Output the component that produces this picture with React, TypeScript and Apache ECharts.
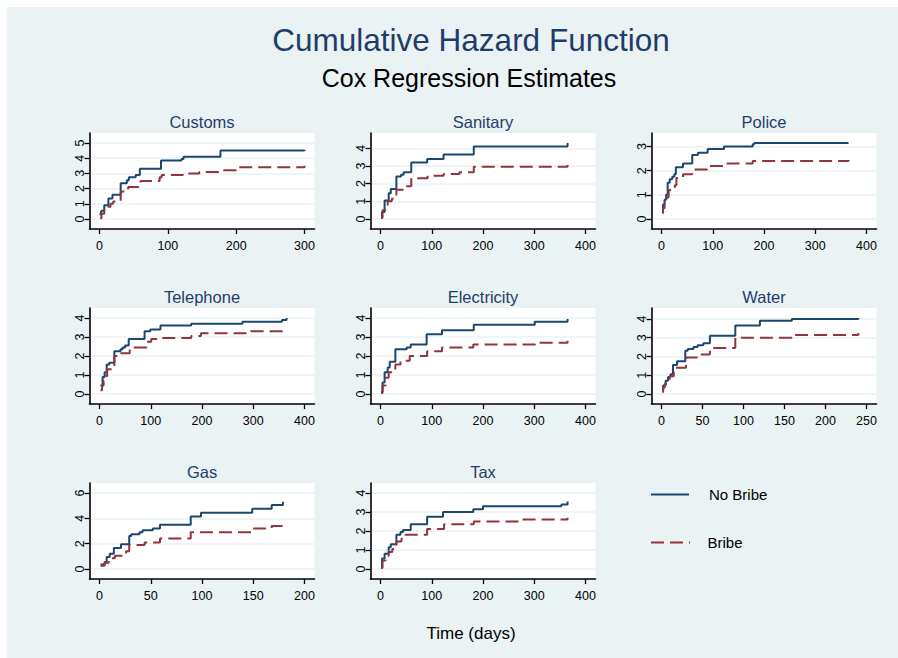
import React, { useEffect, useRef } from 'react';
import * as echarts from 'echarts';

// ---------------- data ----------------
const panelTitles = ['Customs', 'Sanitary', 'Police', 'Telephone', 'Electricity', 'Water', 'Gas', 'Tax'];
const seriesNames = ['No Bribe', 'Bribe'];

const customsNoBribeX = [1, 2, 3, 7, 13, 19, 31, 40, 43, 53, 59, 90, 120, 123, 177, 300];
const customsNoBribeY = [0.25, 0.4, 0.55, 0.9, 1.35, 1.6, 2.35, 2.55, 2.75, 2.9, 3.3, 3.85, 3.95, 4.1, 4.5, 4.55];
const customsBribeX = [1, 3, 7, 13, 16, 20, 31, 35, 42, 57, 60, 88, 91, 122, 146, 176, 200, 300];
const customsBribeY = [0.05, 0.35, 0.6, 0.8, 1.0, 1.15, 1.8, 1.95, 2.1, 2.35, 2.5, 2.75, 2.9, 3.0, 3.1, 3.2, 3.4, 3.5];

const sanitaryNoBribeX = [1, 3, 8, 16, 20, 31, 40, 45, 60, 91, 123, 182, 365];
const sanitaryNoBribeY = [0.1, 0.4, 1.05, 1.45, 1.7, 2.4, 2.5, 2.65, 3.2, 3.4, 3.65, 4.1, 4.3];
const sanitaryBribeX = [1, 4, 9, 14, 22, 31, 44, 60, 92, 123, 154, 182, 365];
const sanitaryBribeY = [0.05, 0.5, 0.8, 1.0, 1.15, 1.65, 1.85, 2.3, 2.45, 2.55, 2.65, 2.95, 3.05];

const policeNoBribeX = [1, 3, 6, 9, 12, 16, 21, 25, 28, 42, 60, 71, 90, 122, 178, 181, 365];
const policeNoBribeY = [0.4, 0.6, 0.8, 1.0, 1.5, 1.65, 1.75, 1.85, 2.15, 2.3, 2.65, 2.75, 2.9, 3.0, 3.1, 3.15, 3.15];
const policeBribeX = [1, 3, 6, 11, 14, 26, 29, 42, 60, 89, 121, 178, 365];
const policeBribeY = [0.25, 0.45, 0.65, 0.9, 1.2, 1.4, 1.7, 1.85, 2.05, 2.2, 2.3, 2.4, 2.45];

const telephoneNoBribeX = [2, 6, 10, 14, 19, 29, 41, 45, 50, 57, 88, 99, 119, 179, 279, 356, 365];
const telephoneNoBribeY = [0.45, 0.9, 1.15, 1.55, 1.65, 2.25, 2.35, 2.45, 2.55, 2.9, 3.3, 3.4, 3.6, 3.7, 3.8, 3.9, 4.0];
const telephoneBribeX = [2, 5, 8, 11, 15, 29, 41, 59, 92, 101, 121, 179, 198, 295, 365];
const telephoneBribeY = [0.2, 0.45, 0.7, 0.95, 1.3, 2.0, 2.15, 2.45, 2.75, 2.9, 2.95, 3.05, 3.2, 3.3, 3.3];

const electricityNoBribeX = [1, 4, 8, 14, 18, 29, 51, 59, 90, 120, 182, 301, 365];
const electricityNoBribeY = [0.1, 0.6, 1.15, 1.4, 1.7, 2.35, 2.45, 2.6, 3.15, 3.35, 3.65, 3.8, 3.95];
const electricityBribeX = [1, 4, 10, 16, 29, 39, 57, 91, 120, 181, 302, 365];
const electricityBribeY = [0.05, 0.45, 0.85, 1.15, 1.55, 1.75, 2.0, 2.25, 2.45, 2.6, 2.7, 2.8];

const waterNoBribeX = [1, 2, 5, 8, 11, 14, 19, 29, 32, 39, 44, 51, 59, 90, 120, 159, 240];
const waterNoBribeY = [0.2, 0.45, 0.7, 0.9, 1.05, 1.55, 1.75, 2.3, 2.4, 2.5, 2.6, 2.7, 3.1, 3.65, 3.9, 4.0, 4.05];
const waterBribeX = [1, 2, 4, 8, 10, 15, 30, 43, 59, 90, 159, 240];
const waterBribeY = [0.1, 0.35, 0.55, 0.8, 0.95, 1.4, 1.95, 2.1, 2.45, 3.0, 3.15, 3.25];

const gasNoBribeX = [1, 5, 7, 10, 14, 21, 29, 31, 39, 42, 52, 59, 89, 99, 149, 168, 179];
const gasNoBribeY = [0.35, 0.55, 0.95, 1.2, 1.65, 1.95, 2.6, 2.75, 2.9, 3.05, 3.2, 3.5, 4.15, 4.45, 4.75, 5.05, 5.3];
const gasBribeX = [1, 5, 9, 15, 26, 29, 44, 59, 89, 149, 168, 179];
const gasBribeY = [0.25, 0.5, 0.85, 1.05, 1.4, 1.9, 2.1, 2.4, 2.9, 3.2, 3.4, 3.45];

const taxNoBribeX = [1, 3, 8, 16, 20, 31, 39, 44, 59, 91, 122, 181, 200, 353, 365];
const taxNoBribeY = [0.1, 0.55, 0.8, 1.15, 1.3, 1.8, 1.95, 2.05, 2.35, 2.75, 3.0, 3.15, 3.3, 3.4, 3.55];
const taxBribeX = [1, 4, 10, 16, 23, 31, 41, 49, 91, 124, 182, 272, 365];
const taxBribeY = [0.05, 0.45, 0.7, 0.9, 1.05, 1.45, 1.6, 1.8, 2.1, 2.35, 2.5, 2.6, 2.7];

const xTicks400 = [0, 100, 200, 300, 400];
const xTicksCustoms = [0, 100, 200, 300];
const xTicksWater = [0, 50, 100, 150, 200, 250];
const xTicksGas = [0, 50, 100, 150, 200];
const yTicks5 = [0, 1, 2, 3, 4, 5];
const yTicks4 = [0, 1, 2, 3, 4];
const yTicks3 = [0, 1, 2, 3];
const yTicksGas = [0, 2, 4, 6];

const panels = [
  { nbx: customsNoBribeX, nby: customsNoBribeY, bx: customsBribeX, by: customsBribeY, xt: xTicksCustoms, yt: yTicks5 },
  { nbx: sanitaryNoBribeX, nby: sanitaryNoBribeY, bx: sanitaryBribeX, by: sanitaryBribeY, xt: xTicks400, yt: yTicks4 },
  { nbx: policeNoBribeX, nby: policeNoBribeY, bx: policeBribeX, by: policeBribeY, xt: xTicks400, yt: yTicks3 },
  { nbx: telephoneNoBribeX, nby: telephoneNoBribeY, bx: telephoneBribeX, by: telephoneBribeY, xt: xTicks400, yt: yTicks4 },
  { nbx: electricityNoBribeX, nby: electricityNoBribeY, bx: electricityBribeX, by: electricityBribeY, xt: xTicks400, yt: yTicks4 },
  { nbx: waterNoBribeX, nby: waterNoBribeY, bx: waterBribeX, by: waterBribeY, xt: xTicksWater, yt: yTicks4 },
  { nbx: gasNoBribeX, nby: gasNoBribeY, bx: gasBribeX, by: gasBribeY, xt: xTicksGas, yt: yTicksGas },
  { nbx: taxNoBribeX, nby: taxNoBribeY, bx: taxBribeX, by: taxBribeY, xt: xTicks400, yt: yTicks4 },
];

// ---------------- style / layout ----------------
const FONT = '"Liberation Sans", Arial, Helvetica, sans-serif';
const NAVY = '#1a476f';
const MAROON = '#90353b';
const TITLE = '#1f3d6b';
const BG = '#eaf2f3';
const OFF = 7; // chart origin on page
const COL_LEFT = [89.5, 370.5, 651.5];
const ROW_TOP = [133, 308, 483];
const PW = 225;
const PH = 96;
const PAD = 10;

function padRange(lo: number, hi: number, px: number) {
  const k = PAD / (px - 2 * PAD);
  const s = hi - lo;
  return [lo - k * s, hi + k * s];
}

function buildOption() {
  const grid: any[] = [];
  const xAxis: any[] = [];
  const yAxis: any[] = [];
  const series: any[] = [];
  const graphic: any[] = [];

  panels.forEach((p, i) => {
    const col = i % 3;
    const row = Math.floor(i / 3);
    const left = COL_LEFT[col] - OFF;
    const top = ROW_TOP[row] - OFF;
    grid.push({ left, top, width: PW, height: PH, show: true, backgroundColor: '#ffffff', borderWidth: 0 });

    const xlo = Math.min(p.xt[0], ...p.nbx, ...p.bx);
    const xhi = Math.max(p.xt[p.xt.length - 1], ...p.nbx, ...p.bx);
    const ylo = Math.min(p.yt[0], ...p.nby, ...p.by);
    const yhi = Math.max(p.yt[p.yt.length - 1], ...p.nby, ...p.by);
    const [x0, x1] = padRange(xlo, xhi, PW);
    const [y0, y1] = padRange(ylo, yhi, PH);

    xAxis.push({
      type: 'value', gridIndex: i, min: x0, max: x1,
      axisLine: { show: true, onZero: false, lineStyle: { color: '#000', width: 1.6 } },
      axisTick: { show: true, length: 5, customValues: p.xt, lineStyle: { color: '#000', width: 1.3 } },
      axisLabel: { customValues: p.xt, margin: 10, fontSize: 12.5, color: '#000', fontFamily: FONT },
      splitLine: { show: false },
    });
    yAxis.push({
      type: 'value', gridIndex: i, min: y0, max: y1,
      axisLine: { show: true, onZero: false, lineStyle: { color: '#000', width: 1.6 } },
      axisTick: { show: true, length: 5, customValues: p.yt, lineStyle: { color: '#000', width: 1.3 } },
      axisLabel: { customValues: p.yt, margin: 3, rotate: 90, fontSize: 12.5, color: '#000', fontFamily: FONT },
      splitLine: { show: true, lineStyle: { color: BG, width: 1.6 } },
    });
    series.push({
      name: seriesNames[0], type: 'line', xAxisIndex: i, yAxisIndex: i, step: 'end',
      symbol: 'none', showSymbol: false, silent: true,
      data: p.nbx.map((x, j) => [x, p.nby[j]]),
      lineStyle: { color: NAVY, width: 2 }, itemStyle: { color: NAVY },
    });
    series.push({
      name: seriesNames[1], type: 'line', xAxisIndex: i, yAxisIndex: i, step: 'end',
      symbol: 'none', showSymbol: false, silent: true,
      data: p.bx.map((x, j) => [x, p.by[j]]),
      lineStyle: { color: MAROON, width: 2, type: [13, 6] }, itemStyle: { color: MAROON },
    });
    graphic.push({
      type: 'text', x: left + PW / 2, y: top - 11.3, silent: true,
      style: { text: panelTitles[i], fill: TITLE, fontSize: 16.5, fontFamily: FONT, align: 'center', verticalAlign: 'middle' },
    });
  });

  graphic.push({
    type: 'text', x: 471 - OFF, y: 40 - OFF, silent: true,
    style: { text: 'Cumulative Hazard Function', fill: TITLE, fontSize: 31.5, fontFamily: FONT, align: 'center', verticalAlign: 'middle' },
  });
  graphic.push({
    type: 'text', x: 469 - OFF, y: 78 - OFF, silent: true,
    style: { text: 'Cox Regression Estimates', fill: '#000', fontSize: 25, fontFamily: FONT, align: 'center', verticalAlign: 'middle' },
  });
  graphic.push({
    type: 'text', x: 471 - OFF, y: 633 - OFF, silent: true,
    style: { text: 'Time (days)', fill: '#000', fontSize: 17, fontFamily: FONT, align: 'center', verticalAlign: 'middle' },
  });
  // legend
  graphic.push({
    type: 'line', silent: true,
    shape: { x1: 651 - OFF, y1: 494.5 - OFF, x2: 689 - OFF, y2: 494.5 - OFF },
    style: { stroke: NAVY, lineWidth: 2 },
  });
  graphic.push({
    type: 'text', x: 709 - OFF, y: 494.5 - OFF, silent: true,
    style: { text: seriesNames[0], fill: '#000', fontSize: 15, fontFamily: FONT, align: 'left', verticalAlign: 'middle' },
  });
  graphic.push({
    type: 'line', silent: true,
    shape: { x1: 651 - OFF, y1: 542.5 - OFF, x2: 690 - OFF, y2: 542.5 - OFF },
    style: { stroke: MAROON, lineWidth: 2, lineDash: [13, 6] },
  });
  graphic.push({
    type: 'text', x: 707.5 - OFF, y: 542.5 - OFF, silent: true,
    style: { text: seriesNames[1], fill: '#000', fontSize: 15, fontFamily: FONT, align: 'left', verticalAlign: 'middle' },
  });

  return {
    animation: false,
    backgroundColor: BG,
    grid, xAxis, yAxis, series, graphic,
  };
}

export default function App() {
  const ref = useRef<HTMLDivElement>(null);
  useEffect(() => {
    if (!ref.current) return;
    const chart = echarts.init(ref.current, undefined, { renderer: 'svg' });
    chart.setOption(buildOption() as any);
    return () => chart.dispose();
  }, []);
  return (
    <div
      ref={ref}
      style={{ position: 'fixed', left: OFF, top: OFF, width: 898 - OFF, height: 658 - OFF }}
    />
  );
}
